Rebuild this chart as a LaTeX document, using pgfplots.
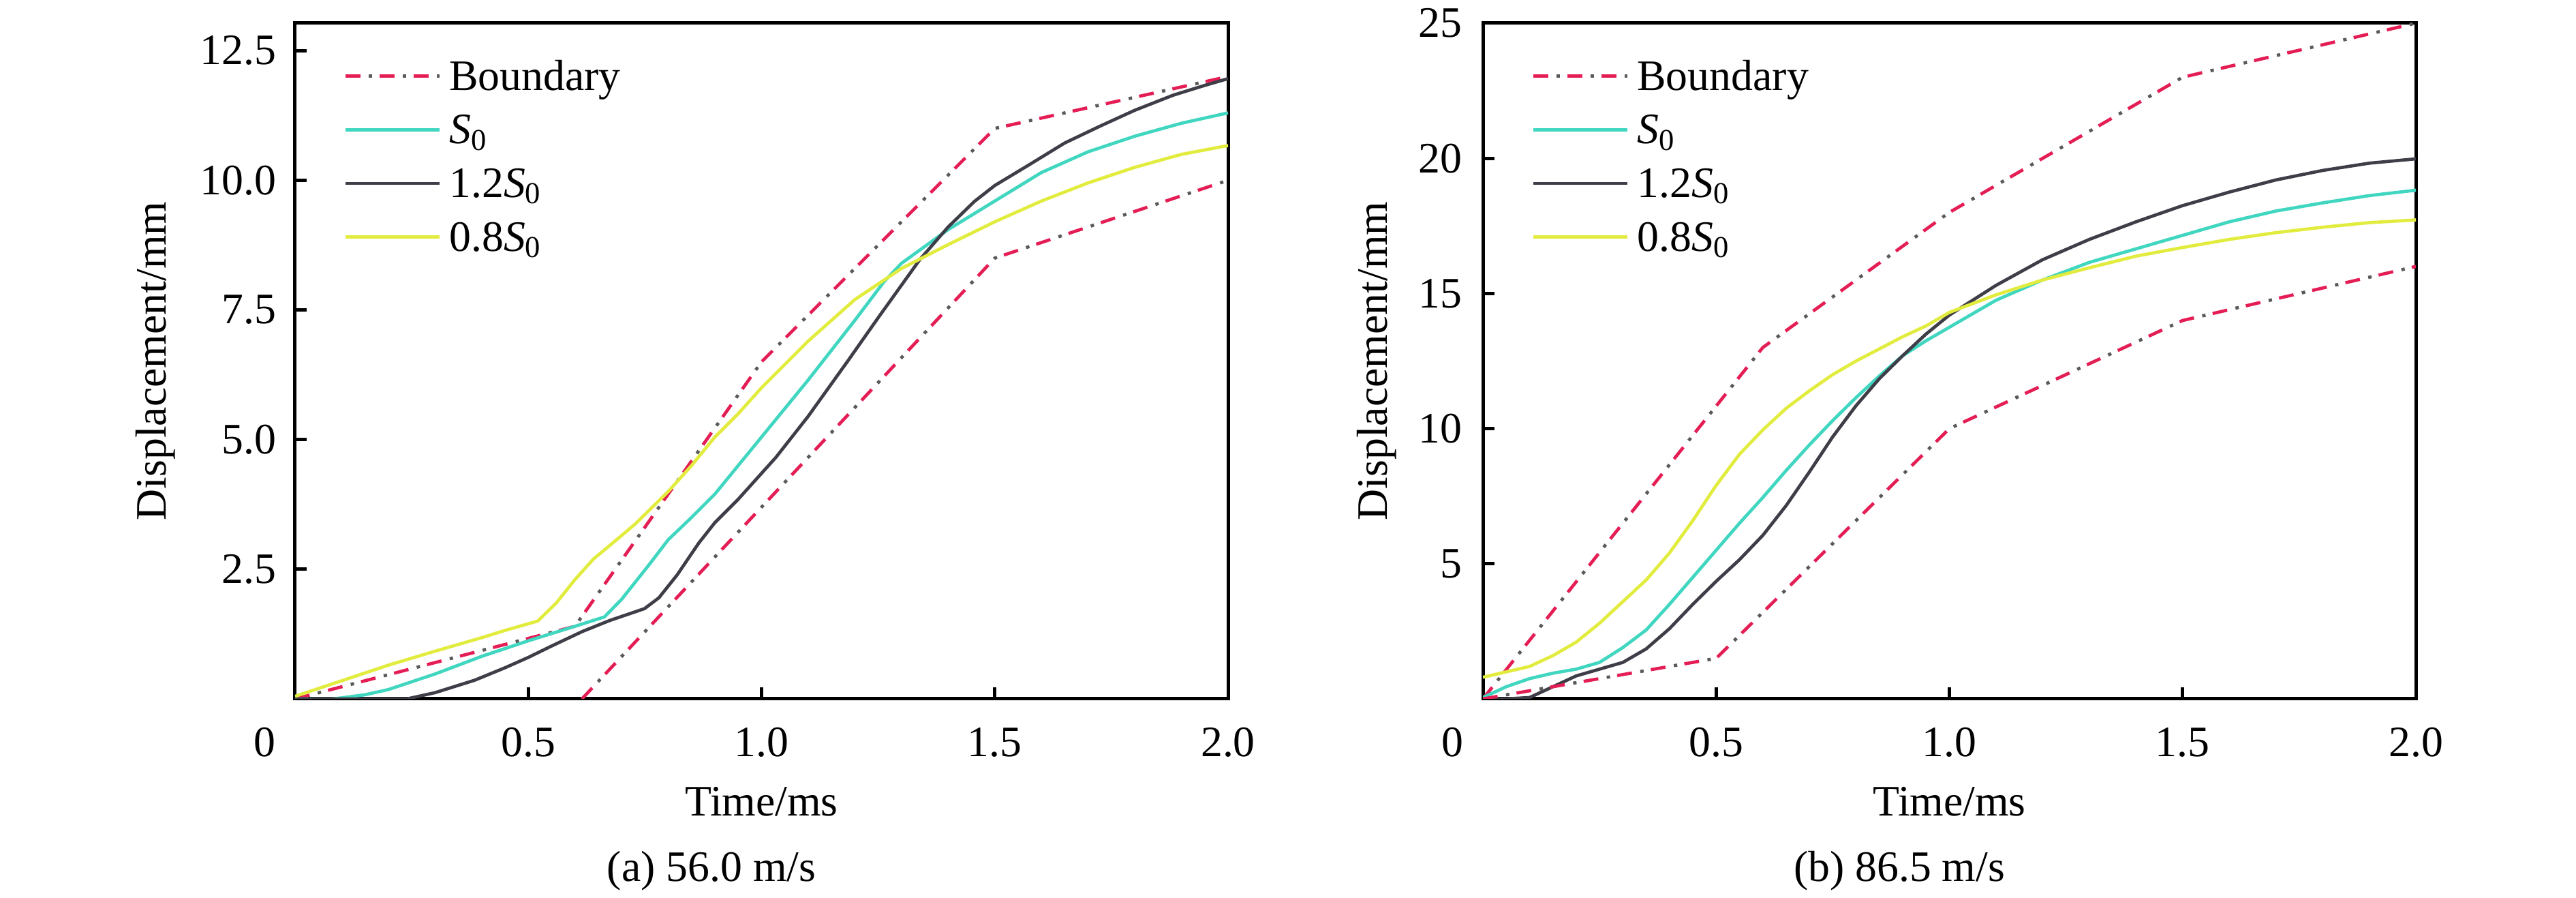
\documentclass[border=0pt]{standalone}
\usepackage{fontspec}
\setmainfont{Liberation Serif}
\usepackage{pgfplots}
\pgfplotsset{compat=1.18}
\definecolor{bred}{RGB}{228,30,85}
\definecolor{bdot}{RGB}{90,90,90}
\definecolor{cyanl}{RGB}{64,214,192}
\definecolor{darkl}{RGB}{62,62,72}
\definecolor{yell}{RGB}{226,236,62}
\newcommand{\ls}{\rule[-4.3pt]{0pt}{12.4pt}}
\pgfplotsset{
  myaxis/.style={
    scale only axis, width=219.04pt, height=158.56pt,
    xmin=0, xmax=2, ymin=0,
    axis line style={line width=0.8pt},
    every tick/.style={black, line width=0.8pt}, major tick length=2.7pt,
    tick align=inside, xtick pos=bottom, ytick pos=left,
    /pgf/number format/assume math mode=true,
    xtick={0.5,1,1.5,2},
    xticklabel style={/pgf/number format/fixed, /pgf/number format/fixed zerofill, /pgf/number format/precision=1, yshift=-3.2pt},
    extra x ticks={0}, extra x tick labels={0},
    extra x tick style={xticklabel style={xshift=-7.2pt}, major tick length=0pt},
    xlabel={Time/ms}, ylabel={Displacement/mm},
    x label style={at={(axis description cs:0.5,-0.1524)}, anchor=center},
    legend cell align=left,
    legend image code/.code={\draw[#1] (0pt,0pt) -- (21.6pt,0pt); \path (0pt,0pt) -- (22pt,0pt);},
    legend style={draw=none, fill=none, inner sep=0pt, at={(axis description cs:0.0515,0.966)}, anchor=north west,
      row sep=-1pt},
  },
  bnd/.style={bred, line width=0.75pt, dash pattern=on 3.5pt off 4.5pt,
    postaction={draw=bdot, line width=0.75pt, dash pattern=on 0pt off 5.5pt on 0.8pt off 1.7pt}},
  cyl/.style={cyanl, line width=0.75pt},
  dkl/.style={darkl, line width=0.75pt},
  yel/.style={yell, line width=0.75pt},
}
\begin{document}
\begin{tikzpicture}[font=\fontsize{10.2pt}{12pt}\selectfont]
\useasboundingbox (0,0) rectangle (604.8pt,210.72pt);
% ---------- (a) ----------
\begin{axis}[myaxis, at={(69.28pt,46.72pt)}, anchor=south west,
  ymax=13.03, ytick={2.5,5,7.5,10,12.5},
  yticklabel style={/pgf/number format/fixed, /pgf/number format/fixed zerofill, /pgf/number format/precision=1, xshift=-0.9pt},
  y label style={at={(axis description cs:-0.1498,0.5)}, anchor=center}]
\addplot[bnd] coordinates {(0,0) (0.6,1.4) (1.0,6.5) (1.5,11.0) (2.0,12.0)};
\addlegendentry{\ls Boundary}
\addplot[cyl] coordinates {(0,0) (0.08,0) (0.1,0.02) (0.15,0.08) (0.2,0.18) (0.3,0.48) (0.4,0.82) (0.5,1.12) (0.6,1.4) (0.663,1.58) (0.7,1.92) (0.76,2.6) (0.8,3.07) (0.85,3.5) (0.9,3.95) (0.95,4.5) (1.0,5.05) (1.1,6.15) (1.2,7.3) (1.263,8.05) (1.3,8.4) (1.4,9.05) (1.5,9.6) (1.6,10.15) (1.7,10.55) (1.8,10.85) (1.9,11.1) (2.0,11.3)};
\addlegendentry{\ls\textit{S}\textsubscript{0}}
\addplot[dkl] coordinates {(0,0) (0.24,0) (0.3,0.12) (0.385,0.36) (0.45,0.6) (0.5,0.8) (0.55,1.02) (0.616,1.3) (0.674,1.51) (0.749,1.74) (0.78,1.95) (0.819,2.39) (0.865,3.0) (0.9,3.4) (0.95,3.85) (1.031,4.66) (1.1,5.45) (1.186,6.53) (1.25,7.35) (1.34,8.48) (1.4,9.1) (1.456,9.59) (1.5,9.9) (1.572,10.29) (1.65,10.72) (1.727,11.05) (1.8,11.35) (1.882,11.64) (1.95,11.83) (2.0,11.96)};
\addlegendentry{\ls 1.2\textit{S}\textsubscript{0}}
\addplot[yel] coordinates {(0,0.05) (0.1,0.35) (0.2,0.65) (0.3,0.92) (0.4,1.18) (0.45,1.32) (0.52,1.5) (0.56,1.85) (0.6,2.3) (0.64,2.7) (0.7,3.15) (0.73,3.38) (0.8,4.0) (0.85,4.5) (0.9,5.05) (0.95,5.5) (1.0,6.0) (1.1,6.9) (1.2,7.7) (1.3,8.3) (1.4,8.76) (1.5,9.2) (1.6,9.6) (1.7,9.95) (1.8,10.25) (1.9,10.5) (2.0,10.67)};
\addlegendentry{\ls 0.8\textit{S}\textsubscript{0}}
\addplot[bnd, forget plot] coordinates {(0.615,0) (1.5,8.5) (2.0,10.0)};
\end{axis}
% ---------- (b) ----------
\begin{axis}[myaxis, at={(348.16pt,46.72pt)}, anchor=south west,
  ymax=25, ytick={5,10,15,20,25},
  yticklabel style={xshift=-1.4pt},
  y label style={at={(axis description cs:-0.114,0.5)}, anchor=center}]
\addplot[bnd] coordinates {(0,0) (0.6,13.0) (1.0,18.0) (1.5,23.0) (2.0,25.0)};
\addlegendentry{\ls Boundary}
\addplot[cyl] coordinates {(0,0.05) (0.05,0.45) (0.1,0.75) (0.15,0.95) (0.2,1.1) (0.25,1.35) (0.3,1.9) (0.35,2.55) (0.4,3.5) (0.45,4.5) (0.5,5.5) (0.55,6.5) (0.6,7.45) (0.65,8.45) (0.7,9.4) (0.75,10.3) (0.8,11.15) (0.85,11.95) (0.9,12.7) (0.95,13.25) (1.0,13.75) (1.1,14.75) (1.2,15.5) (1.3,16.15) (1.4,16.65) (1.5,17.15) (1.6,17.65) (1.7,18.05) (1.8,18.35) (1.9,18.62) (2.0,18.82)};
\addlegendentry{\ls\textit{S}\textsubscript{0}}
\addplot[dkl] coordinates {(0,0) (0.05,0) (0.1,0.05) (0.15,0.45) (0.2,0.85) (0.25,1.1) (0.3,1.35) (0.35,1.85) (0.4,2.6) (0.45,3.5) (0.5,4.35) (0.55,5.15) (0.6,6.05) (0.65,7.15) (0.7,8.4) (0.75,9.7) (0.8,10.85) (0.85,11.85) (0.9,12.7) (0.95,13.5) (1.0,14.2) (1.1,15.3) (1.2,16.25) (1.3,17.0) (1.4,17.65) (1.5,18.25) (1.6,18.75) (1.7,19.2) (1.8,19.55) (1.9,19.82) (2.0,19.98)};
\addlegendentry{\ls 1.2\textit{S}\textsubscript{0}}
\addplot[yel] coordinates {(0,0.8) (0.05,1.0) (0.1,1.2) (0.15,1.6) (0.2,2.1) (0.25,2.8) (0.3,3.6) (0.35,4.4) (0.4,5.4) (0.45,6.6) (0.5,7.9) (0.55,9.05) (0.6,9.95) (0.65,10.75) (0.7,11.4) (0.75,12.0) (0.8,12.5) (0.85,12.95) (0.9,13.4) (0.95,13.8) (1.0,14.3) (1.1,14.95) (1.2,15.5) (1.3,15.95) (1.4,16.38) (1.5,16.7) (1.6,17.0) (1.7,17.25) (1.8,17.45) (1.9,17.62) (2.0,17.72)};
\addlegendentry{\ls 0.8\textit{S}\textsubscript{0}}
\addplot[bnd, forget plot] coordinates {(0,0) (0.5,1.5) (1.0,10.0) (1.5,14.0) (2.0,16.0)};
\end{axis}
\node at (167.04pt,6.4pt) {(a) 56.0 m/s};
\node at (445.92pt,6.4pt) {(b) 86.5 m/s};
\end{tikzpicture}
\end{document}
